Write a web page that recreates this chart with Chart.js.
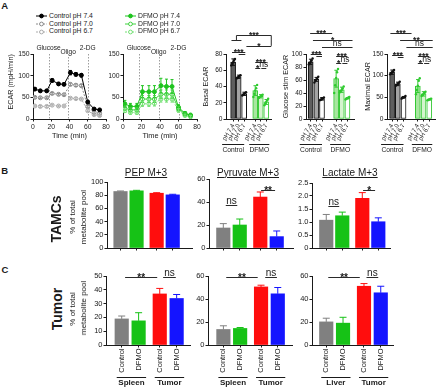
<!DOCTYPE html>
<html><head><meta charset="utf-8">
<script src="https://cdn.jsdelivr.net/npm/chart.js@4.4.1/dist/chart.umd.min.js"></script>
<style>
html,body{margin:0;padding:0;background:#fff}
body{position:relative;width:440px;height:388px;overflow:hidden;font-family:"Liberation Sans",Arial,Helvetica,sans-serif;color:#1a1a1a}
canvas{position:absolute}
.t{position:absolute;white-space:nowrap;line-height:1;transform-origin:center center}
.lg{position:absolute;display:flex;align-items:center;font-size:6.8px;line-height:1;white-space:nowrap}
.lg svg{margin-right:2px}
</style></head><body>
<script>
// ================= DATA =================
// Panel A: ECAR time course (minutes)
const timeMin   = [2, 8, 15, 21, 28, 34, 41, 47, 53, 60, 67, 73];
const ctrlPH74    = [69, 65, 65, 89, 81, 80, 107, 103, 101, 39, 23, 21];
const ctrlPH74Err = [3, 3, 3, 4, 3, 3, 5, 4, 4, 3, 2, 2];
const ctrlPH70    = [50, 49, 49, 59, 57, 56, 80, 78, 77, 29, 15, 13];
const ctrlPH70Err = [2, 2, 2, 2, 2, 2, 3, 3, 3, 2, 2, 2];
const ctrlPH67    = [30, 29, 29, 32, 30, 30, 48, 47, 46, 19, 10, 8];
const ctrlPH67Err = [2, 2, 2, 2, 2, 2, 2, 2, 2, 2, 2, 2];
const dfmoPH74    = [35, 29, 29, 63, 63, 63, 77, 75, 75, 27, 13, 9];
const dfmoPH74Err = [8, 7, 7, 14, 14, 14, 17, 17, 16, 6, 4, 4];
const dfmoPH70    = [25, 21, 21, 46, 46, 46, 57, 57, 57, 24, 11, 8];
const dfmoPH70Err = [5, 5, 5, 8, 8, 8, 10, 10, 10, 5, 3, 3];
const dfmoPH67    = [19, 15, 15, 35, 35, 36, 46, 46, 46, 20, 8, 5];
const dfmoPH67Err = [4, 4, 4, 6, 6, 6, 7, 7, 7, 4, 3, 3];
const injectionTimes = [17, 38.5, 60];
const injectionNames = ['Glucose', 'Oligo', '2-DG'];

// Panel A: ECAR bar summaries
const ecarCategories = ['pH 7.4', 'pH 7.0', 'pH 6.7', 'pH 7.4', 'pH 7.0', 'pH 6.7'];
const ecarGroups = ['Control', 'DFMO'];
const basalMean   = [70, 52, 31, 35, 28, 21];
const basalSem    = [4, 2, 2, 6, 2, 3];
const basalPoints = [[66,68,70,72,74],[50,51,52,53,54],[29,30,31,32,33],[27,31,35,38,42],[26,27,28,29,30],[17,19,21,23,25]];
const glucoseMean   = [88, 61, 31, 62, 45, 32];
const glucoseSem    = [4, 3, 2, 13, 4, 1];
const glucosePoints = [[84,86,88,90,93],[56,59,61,63,65],[29,30,31,32,33],[40,52,63,72,77],[41,43,45,47,50],[30,31,32,33,34]];
const maximalMean   = [108, 81, 50, 76, 58, 45];
const maximalSem    = [5, 4, 2, 15, 5, 1];
const maximalPoints = [[103,106,108,110,113],[77,79,81,83,86],[47,49,50,51,53],[57,67,77,88,94],[53,56,58,60,63],[43,44,45,46,47]];

// Panels B & C: % of total metabolite pool
const barLabels = ['Control', 'DFMO', 'Control', 'DFMO'];
const tamcPepMean = [85.6, 86.6, 83, 80.5];   const tamcPepSem = [0.8, 0.8, 0.8, 0.9];
const tamcPyrMean = [17.4, 20, 44.3, 9.9];    const tamcPyrSem = [3.8, 5.2, 4.4, 4.9];
const tamcLacMean = [1.07, 1.24, 1.91, 1.01]; const tamcLacSem = [0.22, 0.14, 0.22, 0.15];
const tumorAMean = [18.9, 17.5, 37, 33.7];    const tumorASem = [2.1, 5.9, 4, 2.9];
const tumorBMean = [13.5, 14.4, 50.5, 44.5];  const tumorBSem = [3.2, 0.8, 1.5, 5.5];
const tumorCMean = [20.1, 19, 51.1, 45.4];    const tumorCSem = [3.2, 5.1, 2.3, 5.7];
const tissueGroupsC1 = ['Spleen', 'Tumor'];
const tissueGroupsC2 = ['Spleen', 'Tumor'];
const tissueGroupsC3 = ['Liver', 'Tumor'];

// ================= STYLE / HELPERS =================
const FONT = '"Liberation Sans", Arial, Helvetica, sans-serif';
const INK = '#1a1a1a';
Chart.defaults.font.family = FONT;
Chart.defaults.color = INK;
Chart.defaults.plugins.legend.display = false;
Chart.defaults.plugins.tooltip.enabled = false;

const lineStyles = {
  c74: {color:'#000000', fill:'#000000', dash:[]},
  c70: {color:'#8a8a8a', fill:'#ffffff', dash:[2,1.5]},
  c67: {color:'#ababab', fill:'#ffffff', dash:[2,1.5]},
  d74: {color:'#1fc41f', fill:'#1fc41f', dash:[]},
  d70: {color:'#3fd23f', fill:'#ffffff', dash:[]},
  d67: {color:'#72e072', fill:'#ffffff', dash:[2,1.5]},
};
const tissueColors = ['#808080', '#16c216', '#ff0d0d', '#1414ff'];

const errorBars = {
  id: 'errorBars',
  afterDatasetsDraw(chart) {
    const ctx = chart.ctx, ys = chart.scales.y;
    chart.data.datasets.forEach((ds, i) => {
      if (!ds.errors) return;
      const meta = chart.getDatasetMeta(i);
      ctx.save();
      ctx.lineWidth = 1;
      meta.data.forEach((el, j) => {
        const e = ds.errors[j]; if (e == null) return;
        const raw = ds.data[j]; const v = typeof raw === 'object' ? raw.y : raw;
        const x = el.x, cap = ds.errCap || 2;
        const yT = ys.getPixelForValue(v + e);
        const yB = ds.errUpOnly ? ys.getPixelForValue(v) : ys.getPixelForValue(v - e);
        ctx.strokeStyle = Array.isArray(ds.errColor) ? ds.errColor[j] : ds.errColor;
        ctx.beginPath();
        ctx.moveTo(x, yT); ctx.lineTo(x, yB);
        ctx.moveTo(x - cap, yT); ctx.lineTo(x + cap, yT);
        if (!ds.errUpOnly) { ctx.moveTo(x - cap, yB); ctx.lineTo(x + cap, yB); }
        ctx.stroke();
      });
      ctx.restore();
    });
  }
};

const sigPlugin = {
  id: 'sig',
  afterDraw(chart, args, opts) {
    if (!opts || !opts.items) return;
    const {ctx, scales: {x, y}} = chart;
    const fs = opts.fontSize || 9;
    ctx.save();
    ctx.strokeStyle = '#2a2a2a'; ctx.fillStyle = '#1a1a1a'; ctx.lineWidth = 1;
    ctx.textAlign = 'center'; ctx.textBaseline = 'alphabetic';
    opts.items.forEach(it => {
      const x1 = x.getPixelForValue(it.a), x2 = x.getPixelForValue(it.b);
      const py = Math.round(y.getPixelForValue(it.y)) + 0.5;
      ctx.beginPath(); ctx.moveTo(x1, py); ctx.lineTo(x2, py);
      if (it.legA != null) { ctx.moveTo(x1, py); ctx.lineTo(x1, y.getPixelForValue(it.legA)); }
      if (it.legB != null) { ctx.moveTo(x2, py); ctx.lineTo(x2, y.getPixelForValue(it.legB)); }
      ctx.stroke();
      if (it.text) {
        const star = it.text.indexOf('*') >= 0;
        ctx.font = (star ? 'bold ' : '') + fs + 'px ' + FONT;
        const by = star ? py - 1 + fs * 0.42 : py - 1.5;
        ctx.fillText(it.text, (x1 + x2) / 2, by);
      }
    });
    ctx.restore();
  }
};

const groupPlugin = {
  id: 'groups',
  afterDraw(chart, args, opts) {
    if (!opts || !opts.items) return;
    const {ctx, scales: {x}, chartArea} = chart;
    ctx.save();
    ctx.strokeStyle = '#1a1a1a'; ctx.fillStyle = '#1a1a1a'; ctx.lineWidth = 1;
    ctx.font = (opts.bold ? 'bold ' : '') + opts.fontSize + 'px ' + FONT;
    ctx.textAlign = 'center'; ctx.textBaseline = 'middle';
    opts.items.forEach(g => {
      const eL = g.extL != null ? g.extL : opts.extL, eR = g.extR != null ? g.extR : opts.extR;
      const x1 = x.getPixelForValue(g.from) - eL, x2 = x.getPixelForValue(g.to) + eR;
      const ly = Math.round(chartArea.bottom + opts.lineDy) + 0.5;
      ctx.beginPath(); ctx.moveTo(x1, ly); ctx.lineTo(x2, ly); ctx.stroke();
      ctx.fillText(g.label, (x1 + x2) / 2, chartArea.bottom + opts.textDy);
    });
    ctx.restore();
  }
};

const injPlugin = {
  id: 'inj',
  beforeDatasetsDraw(chart, args, opts) {
    if (!opts || !opts.times) return;
    const {ctx, chartArea: a, scales: {x}} = chart;
    ctx.save();
    ctx.strokeStyle = '#9d9d9d'; ctx.lineWidth = 1; ctx.setLineDash([1.5, 1.5]);
    opts.times.forEach(t => {
      const px = Math.round(x.getPixelForValue(t)) + 0.5;
      ctx.beginPath(); ctx.moveTo(px, a.top); ctx.lineTo(px, a.bottom); ctx.stroke();
    });
    ctx.setLineDash([]);
    ctx.fillStyle = INK; ctx.font = opts.fontSize + 'px ' + FONT;
    ctx.textAlign = 'center'; ctx.textBaseline = 'middle';
    opts.times.forEach((t, i) => ctx.fillText(opts.names[i], x.getPixelForValue(t), a.top - opts.raise[i]));
    ctx.restore();
  }
};
Chart.register(errorBars, sigPlugin, groupPlugin, injPlugin);

function makeChart(plot, pad, config) {
  const c = document.createElement('canvas');
  const w = plot.r - plot.l + pad.l + pad.r, h = plot.b - plot.t + pad.t + pad.b;
  c.width = w; c.height = h;
  Object.assign(c.style, {left: (plot.l - pad.l) + 'px', top: (plot.t - pad.t) + 'px', width: w + 'px', height: h + 'px'});
  document.body.appendChild(c);
  const o = config.options;
  o.responsive = false; o.animation = false; o.maintainAspectRatio = false;
  o.layout = {padding: {left: 0, top: pad.t, right: pad.r, bottom: 0}};
  o.scales.x.afterFit = s => { s.height = pad.b; s.paddingLeft = 0; s.paddingRight = 0; };
  o.scales.y.afterFit = s => { s.width = pad.l; s.paddingTop = 0; s.paddingBottom = 0; };
  return new Chart(c, config);
}

function yAxis(o) {
  return {
    min: o.min, max: o.max,
    ticks: {stepSize: o.step, font: {size: o.fs}, padding: 1, color: INK},
    grid: {drawOnChartArea: false, drawTicks: true, tickLength: 2.5, color: INK, lineWidth: 1},
    border: {display: true, color: INK, width: 1},
    title: o.title ? {display: true, text: o.title, font: {size: o.tfs}, color: INK, align: o.align || 'center', padding: {top: o.tpad, bottom: 0}} : {display: false}
  };
}
function barXAxis(o) {
  return {
    type: 'linear', min: o.min, max: o.max, offset: false,
    afterBuildTicks: s => { s.ticks = o.pos.map(v => ({value: v})); },
    ticks: {autoSkip: false, callback: (v, i) => (o.labels ? o.labels[i] : ''), font: {size: o.fs || 6}, minRotation: o.rot || 0, maxRotation: o.rot || 0, padding: 1, color: INK},
    grid: {drawOnChartArea: false, drawTicks: true, offset: false, tickLength: 2.5, color: INK},
    border: {display: true, color: INK, width: 1}
  };
}

// ---------- Panel A line charts ----------
function lineSeries(vals, errs, st) {
  return {
    data: timeMin.map((t, i) => ({x: t, y: vals[i]})),
    errors: errs, errColor: st.color, errCap: 1.5,
    borderColor: st.color, borderWidth: 1, borderDash: st.dash, tension: 0,
    pointRadius: 2, pointBackgroundColor: st.fill, pointBorderColor: st.color, pointBorderWidth: 1
  };
}
function lineChart(plot, pad, series, withTitle) {
  return makeChart(plot, pad, {
    type: 'line',
    data: {datasets: series},
    options: {
      scales: {
        x: {type: 'linear', min: 0, max: 80,
            ticks: {stepSize: 20, font: {size: 6.8}, padding: 1.5, maxRotation: 0, color: INK},
            grid: {drawOnChartArea: false, drawTicks: true, tickLength: 2.5, color: INK},
            border: {display: true, color: INK},
            title: {display: true, text: 'Time (min)', font: {size: 7.4}, color: INK, padding: {top: 0, bottom: 4.5}}},
        y: yAxis({min: 0, max: 150, step: 50, fs: 6.8, title: withTitle ? 'ECAR (mpH/min)' : null, tfs: 7.2, align: 'end', tpad: 7})
      },
      plugins: {inj: {times: injectionTimes, names: injectionNames, raise: [6, 2, 6], fontSize: 6.6}}
    }
  });
}
lineChart({l: 33, t: 54, r: 106, b: 119}, {l: 33, t: 14, r: 6, b: 26}, [
  lineSeries(ctrlPH74, ctrlPH74Err, lineStyles.c74),
  lineSeries(ctrlPH70, ctrlPH70Err, lineStyles.c70),
  lineSeries(ctrlPH67, ctrlPH67Err, lineStyles.c67)
], true);
lineChart({l: 123, t: 54, r: 197, b: 119}, {l: 14, t: 14, r: 6, b: 26}, [
  lineSeries(dfmoPH74, dfmoPH74Err, lineStyles.d74),
  lineSeries(dfmoPH70, dfmoPH70Err, lineStyles.d70),
  lineSeries(dfmoPH67, dfmoPH67Err, lineStyles.d67)
], false);

// ---------- Panel A bar charts ----------
const ecarFill = ['#5e5e5e', '#a3a3a3', '#ffffff', '#a8e6a0', '#d4f4ce', '#ffffff'];
const ecarBorder = ['#111111', '#111111', '#111111', '#33c833', '#33c833', '#33c833'];
const ecarDot = ['#111111', '#111111', '#111111', '#2ccc2c', '#2ccc2c', '#2ccc2c'];
function ecarBar(plot, pad, o) {
  const dots = [], dotCol = [];
  o.points.forEach((arr, i) => arr.forEach((v, k) => { dots.push({x: o.pos[i] + (k - (arr.length - 1) / 2) * 0.17, y: v}); dotCol.push(ecarDot[i]); }));
  return makeChart(plot, pad, {
    type: 'bar',
    data: {datasets: [
      {type: 'scatter', order: 0, data: dots, pointRadius: 1.2, pointBackgroundColor: dotCol, pointBorderWidth: 0},
      {type: 'bar', order: 1, data: o.mean.map((v, i) => ({x: o.pos[i], y: v})), backgroundColor: ecarFill, borderColor: ecarBorder,
       borderWidth: 1, borderSkipped: false, barThickness: 5, errors: o.sem, errColor: ecarBorder, errCap: 1.8}
    ]},
    options: {
      scales: {
        x: barXAxis({min: o.xmin, max: o.xmax, pos: o.pos, labels: ecarCategories, fs: 6.2, rot: 60}),
        y: yAxis({min: 0, max: o.ymax, step: o.step, fs: 6.6, title: o.title, tfs: 7.2, tpad: o.tpad})
      },
      plugins: {
        sig: {items: o.sig, fontSize: 8.5},
        groups: {items: [{from: o.pos[0], to: o.pos[2], label: ecarGroups[0], extL: 11, extR: 0},
                         {from: o.pos[3], to: o.pos[5], label: ecarGroups[1], extL: 6, extR: 3}],
                 extL: 8, extR: 2, lineDy: 24.5, textDy: 31, fontSize: 6.7}
      }
    }
  });
}
ecarBar({l: 226, t: 54, r: 272, b: 119}, {l: 28, t: 28, r: 3, b: 38}, {
  mean: basalMean, sem: basalSem, points: basalPoints, pos: [0, 1, 2, 4, 5, 6], xmin: -1.29, xmax: 6.85,
  ymax: 80, step: 20, title: 'Basal ECAR', tpad: 3.7,
  sig: [
    {a: 0.6, b: 6.9, y: 103, text: '***', legA: 97, legB: 90},
    {a: -0.3, b: 1.5, y: 97},
    {a: 2.4, b: 6.9, y: 90, text: '*'},
    {a: -0.2, b: 2.2, y: 82.5, text: '***'},
    {a: 1.0, b: 2.2, y: 80},
    {a: 4, b: 6, y: 70.5, text: '***'},
    {a: 4, b: 4.9, y: 62.4, text: '*'},
    {a: 5.1, b: 6, y: 62.4, text: 'ns'}
  ]
});
ecarBar({l: 306, t: 54, r: 355, b: 119}, {l: 26, t: 28, r: 3, b: 38}, {
  mean: glucoseMean, sem: glucoseSem, points: glucosePoints, pos: [0, 1, 2, 4.5, 5.5, 6.5], xmin: -0.83, xmax: 7.66,
  ymax: 100, step: 20, title: 'Glucose stim ECAR', tpad: 1.7,
  sig: [
    {a: -0.1, b: 3.8, y: 132, text: '***'},
    {a: 0.4, b: 7.4, y: 121.5, text: '*'},
    {a: 2, b: 7.4, y: 111, text: 'ns'},
    {a: 0, b: 2, y: 99.5, text: '***'},
    {a: 1, b: 2, y: 97},
    {a: 4.5, b: 6.5, y: 97, text: '***'},
    {a: 4.5, b: 5.4, y: 85.7, text: '*'},
    {a: 5.6, b: 6.5, y: 85.7, text: 'ns'}
  ]
});
ecarBar({l: 387, t: 54, r: 435, b: 119}, {l: 27, t: 28, r: 4, b: 38}, {
  mean: maximalMean, sem: maximalSem, points: maximalPoints, pos: [0, 1, 2, 4.5, 5.5, 6.5], xmin: -0.89, xmax: 7.5,
  ymax: 150, step: 50, title: 'Maximal ECAR', tpad: 3.7,
  sig: [
    {a: -0.3, b: 3.4, y: 198, text: '***'},
    {a: 1.4, b: 7.1, y: 182.5, text: '**'},
    {a: 2.5, b: 7.1, y: 167, text: 'ns'},
    {a: 0, b: 2, y: 148, text: '***'},
    {a: 1, b: 2, y: 144},
    {a: 4.5, b: 6.5, y: 145.6, text: '***'},
    {a: 4.5, b: 5.4, y: 128.6, text: '*'},
    {a: 5.6, b: 6.5, y: 128.6, text: 'ns'}
  ]
});

// ---------- Panels B & C ----------
const tissuePos = [0, 1, 2.25, 3.25];
function tissueBar(plot, pad, o) {
  return makeChart(plot, pad, {
    type: 'bar',
    data: {datasets: [{data: o.mean.map((v, i) => ({x: tissuePos[i], y: v})), backgroundColor: tissueColors, borderWidth: 0,
      barThickness: 13.5, errors: o.sem, errColor: tissueColors, errCap: 3.5, errUpOnly: true}]},
    options: {
      scales: {
        x: barXAxis({min: o.xmin, max: o.xmax, pos: tissuePos, labels: o.labels, fs: 7.5, rot: 90}),
        y: yAxis({min: 0, max: o.ymax, step: o.step, fs: 7.5})
      },
      plugins: {
        sig: {items: o.sig || [], fontSize: 10},
        groups: o.groups ? {items: [{from: 0, to: 1, label: o.groups[0]}, {from: 2.25, to: 3.25, label: o.groups[1]}],
                 extL: 5, extR: 7.5, lineDy: 31.5, textDy: 38, fontSize: 8, bold: true} : {}
      }
    }
  });
}
const bPad = {l: 20, t: 10, r: 5, b: 8};
tissueBar({l: 107, t: 182, r: 192, b: 248}, bPad, {mean: tamcPepMean, sem: tamcPepSem, xmin: -0.84, xmax: 4.45, ymax: 100, step: 20});
tissueBar({l: 209, t: 179, r: 293, b: 248}, bPad, {mean: tamcPyrMean, sem: tamcPyrSem, xmin: -0.87, xmax: 4.24, ymax: 60, step: 20,
  sig: [{a: 0.15, b: 0.85, y: 37, text: 'ns'}, {a: 2.3, b: 3.15, y: 50.5, text: '**'}]});
tissueBar({l: 312, t: 183, r: 390, b: 248}, bPad, {mean: tamcLacMean, sem: tamcLacSem, xmin: -0.89, xmax: 3.98, ymax: 2.5, step: 0.5,
  sig: [{a: 0.13, b: 0.81, y: 1.63, text: 'ns'}, {a: 2.3, b: 3.05, y: 2.23, text: '*'}]});

const cPad = {l: 20, t: 12, r: 5, b: 43};
tissueBar({l: 106, t: 276, r: 190, b: 345}, cPad, {mean: tumorAMean, sem: tumorASem, labels: barLabels, groups: tissueGroupsC1,
  xmin: -0.93, xmax: 4.04, ymax: 50, step: 10,
  sig: [{a: 0.2, b: 2.1, y: 49.3, text: '**'}, {a: 2.45, b: 3.2, y: 49.3, text: 'ns'}]});
tissueBar({l: 208, t: 276, r: 292, b: 345}, cPad, {mean: tumorBMean, sem: tumorBSem, labels: barLabels, groups: tissueGroupsC2,
  xmin: -0.92, xmax: 4.1, ymax: 60, step: 20,
  sig: [{a: 0.17, b: 2.05, y: 59.1, text: '**'}, {a: 2.5, b: 3.2, y: 59.1, text: 'ns'}]});
tissueBar({l: 312, t: 276, r: 393, b: 345}, {l: 20, t: 12, r: 6, b: 43}, {mean: tumorCMean, sem: tumorCSem, labels: barLabels, groups: tissueGroupsC3,
  xmin: -0.85, xmax: 3.98, ymax: 60, step: 20,
  sig: [{a: 0.12, b: 2.0, y: 59.1, text: '**'}, {a: 2.4, b: 3.1, y: 59.1, text: 'ns'}]});

// ---------- HTML text: letters, legends, titles ----------
function label(text, cx, cy, size, o = {}) {
  const d = document.createElement('div');
  d.className = 't'; d.textContent = text;
  d.style.fontSize = size + 'px';
  if (o.bold) d.style.fontWeight = 'bold';
  if (o.underline) d.style.textDecoration = 'underline';
  d.style.left = cx + 'px'; d.style.top = cy + 'px';
  d.style.transform = 'translate(-50%,-50%)' + (o.rot ? ' rotate(' + o.rot + 'deg)' : '');
  document.body.appendChild(d);
}
label('A', 4.8, 6.2, 9.5, {bold: true});
label('B', 4.6, 171, 9.5, {bold: true});
label('C', 5, 270, 9.5, {bold: true});

function legendRow(name, st, left, cy) {
  const d = document.createElement('div');
  d.className = 'lg';
  d.style.left = left + 'px'; d.style.top = (cy - 4) + 'px'; d.style.height = '8px';
  const dash = st.dash.length ? ' stroke-dasharray="' + st.dash.join(',') + '"' : '';
  d.innerHTML = '<svg width="11" height="6"><line x1="0" y1="3" x2="11" y2="3" stroke="' + st.color + '" stroke-width="1"' + dash +
    '/><circle cx="5.5" cy="3" r="1.9" fill="' + st.fill + '" stroke="' + st.color + '" stroke-width="1"/></svg><span>' + name + '</span>';
  document.body.appendChild(d);
}
legendRow('Control pH 7.4', lineStyles.c74, 36, 16);
legendRow('Control pH 7.0', lineStyles.c70, 36, 24);
legendRow('Control pH 6.7', lineStyles.c67, 36, 31.5);
legendRow('DFMO pH 7.4', lineStyles.d74, 125, 16);
legendRow('DFMO pH 7.0', lineStyles.d70, 125, 24);
legendRow('DFMO pH 6.7', lineStyles.d67, 125, 31.5);

label('PEP M+3', 146, 172.5, 10, {underline: true});
label('Pyruvate M+3', 248, 172.5, 10, {underline: true});
label('Lactate M+3', 350, 172.5, 10, {underline: true});

label('TAMCs', 56, 219, 14, {bold: true, rot: -90});
label('% of total', 73, 216.5, 8, {rot: -90});
label('metabolite pool', 84, 217, 8, {rot: -90});
label('Tumor', 56.5, 309, 14, {bold: true, rot: -90});
label('% of total', 73, 309, 8, {rot: -90});
label('metabolite pool', 84, 308, 8, {rot: -90});
</script>
</body></html>
